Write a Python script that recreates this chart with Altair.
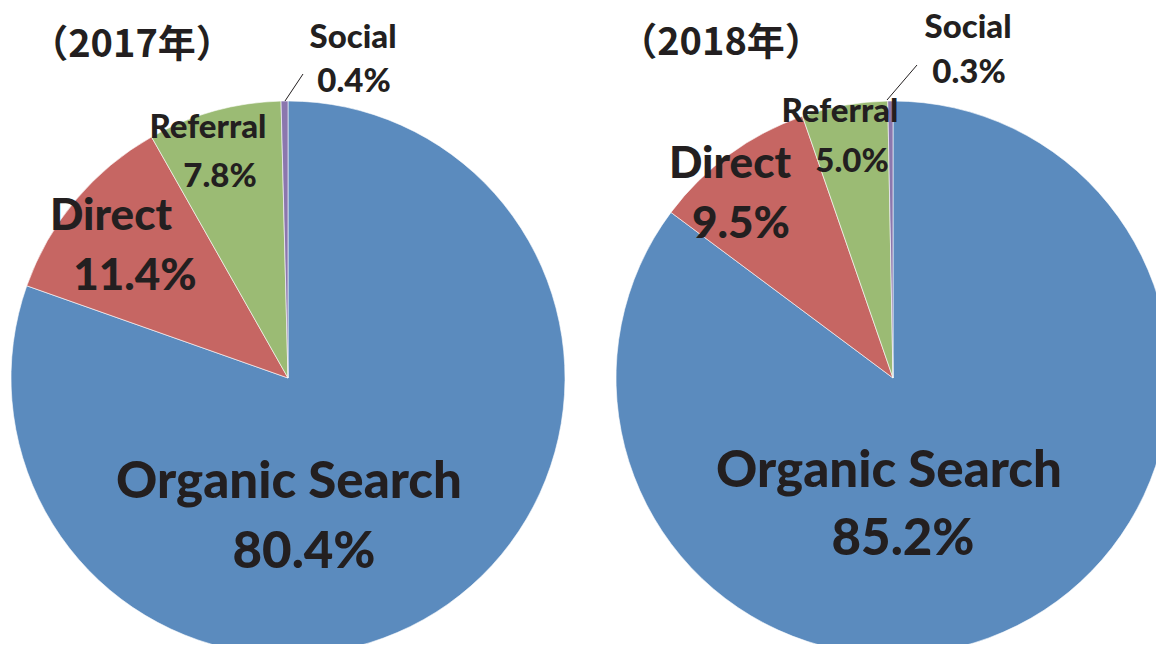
import altair as alt
import pandas as pd

# ---- data ----
sources = ["Organic Search", "Direct", "Referral", "Social"]
values_2017 = [80.4, 11.4, 7.8, 0.4]
values_2018 = [85.2, 9.5, 5.0, 0.3]
years = ["2017", "2018"]
colors = ["#5B8BBE", "#C66663", "#9BBB74", "#8B77AE"]

rows = []
for yr, vals in zip(years, [values_2017, values_2018]):
    for i, (s, v) in enumerate(zip(sources, vals)):
        rows.append({"year": yr, "source": s, "value": v, "idx": i})
df = pd.DataFrame(rows)

# ---- layout (chart coords = page coords - 8) ----
OFF = 8
R = 277
centers = {"2017": (288 - OFF, 378 - OFF), "2018": (893 - OFF, 378 - OFF)}
FONT = "Lato"
TXT = "#231F20"

layers = []
for yr in years:
    cx, cy = centers[yr]
    layers.append(
        alt.Chart(df)
        .transform_filter(alt.datum.year == yr)
        .mark_arc(radius=R, stroke="white", strokeWidth=0.6, clip=True)
        .encode(
            theta=alt.Theta("value:Q", stack=True),
            color=alt.Color("source:N", scale=alt.Scale(domain=sources, range=colors), legend=None),
            order=alt.Order("idx:Q"),
            x=alt.value(cx),
            y=alt.value(cy),
        )
    )

one = pd.DataFrame({"a": [0]})


def txt(text, x, y, size, font=FONT, weight=900):
    return (
        alt.Chart(one)
        .mark_text(font=font, fontSize=size, fontWeight=weight, color=TXT,
                   align="center", baseline="alphabetic")
        .encode(x=alt.value(x - OFF), y=alt.value(y - OFF), text=alt.value(text))
    )


def pct(v):
    return f"{v:.1f}%"


# label placements (page coords: center x, baseline y, size)
place = {
    "2017": {
        "title": (132, 57),
        "Social": ((353, 48, 33), (354, 92, 33)),
        "Referral": ((208, 138, 33), (220, 187, 33)),
        "Direct": ((111, 230, 44), (135, 290, 44)),
        "Organic Search": ((289, 498, 51), (304, 568, 51)),
        "leader": ((285, 101), (303, 74)),
    },
    "2018": {
        "title": (721, 55),
        "Social": ((968, 38, 33), (969, 83, 33)),
        "Referral": ((840, 122, 33), (852, 172, 33)),
        "Direct": ((730, 178, 44), (741, 238, 44)),
        "Organic Search": ((889, 487, 51), (903, 555, 51)),
        "leader": ((887, 100), (917, 65)),
    },
}

for yr, vals in zip(years, [values_2017, values_2018]):
    p = place[yr]
    tx, ty = p["title"]
    layers.append(txt(f"（{yr}年）", tx, ty, 38, font="Noto Sans CJK JP", weight="bold"))
    for s, v in zip(sources, vals):
        (nx, ny, ns), (vx, vy, vs) = p[s]
        layers.append(txt(s, nx, ny, ns))
        layers.append(txt(pct(v), vx, vy, vs))
    (x1, y1), (x2, y2) = p["leader"]
    layers.append(
        alt.Chart(one)
        .mark_rule(color="#231F20", strokeWidth=1)
        .encode(x=alt.value(x1 - OFF), y=alt.value(y1 - OFF),
                x2=alt.value(x2 - OFF), y2=alt.value(y2 - OFF))
    )

chart = (
    alt.layer(*layers)
    .properties(width=1148, height=636, padding=0,
                autosize=alt.AutoSizeParams(type="none"), background="white")
    .configure_view(stroke=None)
)

chart.save("out.html", embed_options={"renderer": "svg", "actions": False})
